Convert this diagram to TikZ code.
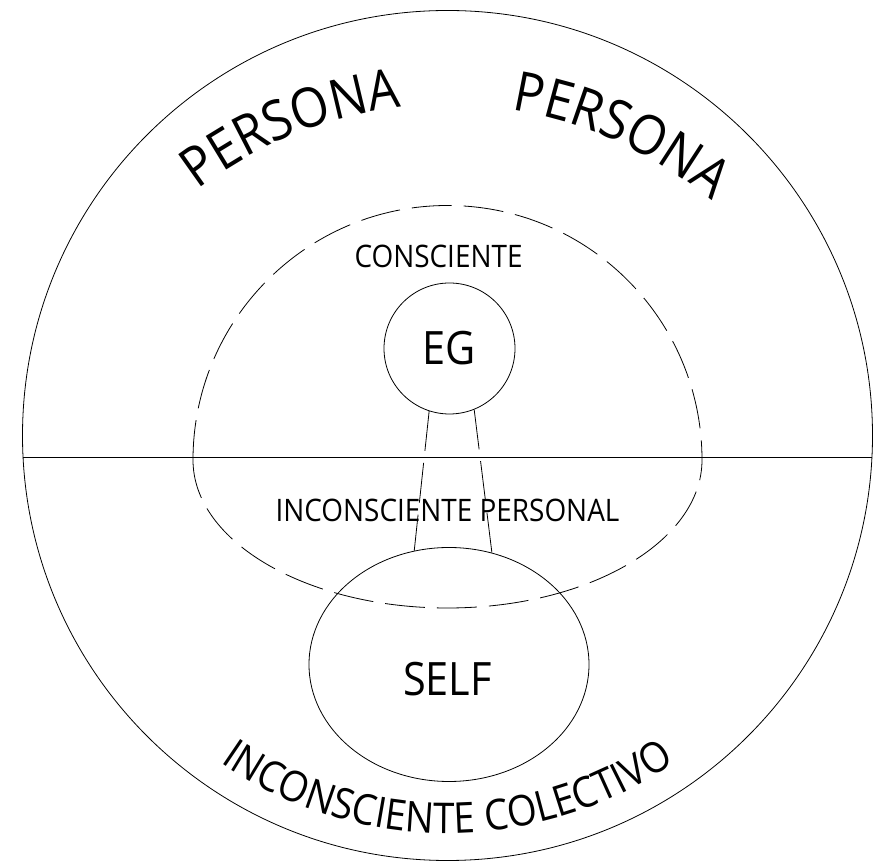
\documentclass[tikz,border=0pt]{standalone}
\usepackage{fontspec}
\setmainfont{Open Sans}[FakeStretch=0.9]
\usetikzlibrary{shapes.geometric,decorations.text,calc}
\newcommand{\zonefont}{\fontsize{31}{37}\selectfont}
\newcommand{\egfont}{\fontsize{46}{54}\selectfont}
\newcommand{\personafont}{\fontsize{55}{64}\selectfont}
\newcommand{\colfont}{\fontsize{42.5}{50}\selectfont}

\begin{document}
\begin{tikzpicture}[x=1pt,y=1pt,line width=0.8pt,
  dashline/.style={dash pattern=on 40pt off 12pt},
  arctext/.style={decorate,decoration={text along path,text align=center,text={#1}}}]
\useasboundingbox (0,0) rectangle (876,862);

\node[circle,draw,minimum size=850,inner sep=0] (psique) at (447.5,426.5) {};
\draw (psique.183.3) -- (psique.-3.3);

\coordinate (dleft) at (193,402);
\draw[dashline] (dleft) arc[start angle=180,end angle=0,radius=254.5]
  arc[start angle=0,end angle=-180,x radius=254.5,y radius=148];

\node[circle,draw,minimum size=131,inner sep=0] (eg) at (449.5,513.5) {\egfont EG};
\node[ellipse,draw,minimum width=280,minimum height=234,inner sep=0] (self) at (449,197.5) {};
\node (selftext) at (447.5,182.5) {\egfont SELF};

\draw[dashline] (eg.252.4) -- (self.107.5);
\draw[dashline] (eg.292) -- (self.69.3);

\node (consc) at (438.5,606) {\zonefont CONSCIENTE};
\node (incper) at (447.5,352) {\zonefont INCONSCIENTE PERSONAL};

\coordinate (arcc) at (447.5,346);
\path[arctext={|\personafont|PERSONA}] ($(arcc)+(131.9:411)$) arc[start angle=131.9,end angle=91.9,radius=411];
\path[arctext={|\personafont|PERSONA}] ($(arcc)+(85.5:411)$) arc[start angle=85.5,end angle=45.5,radius=411];
\path[arctext={|\colfont|INCONSCIENTE COLECTIVO}] ($(psique.center)+(225:398)$) arc[start angle=225,end angle=315,radius=398];

\end{tikzpicture}
\end{document}
